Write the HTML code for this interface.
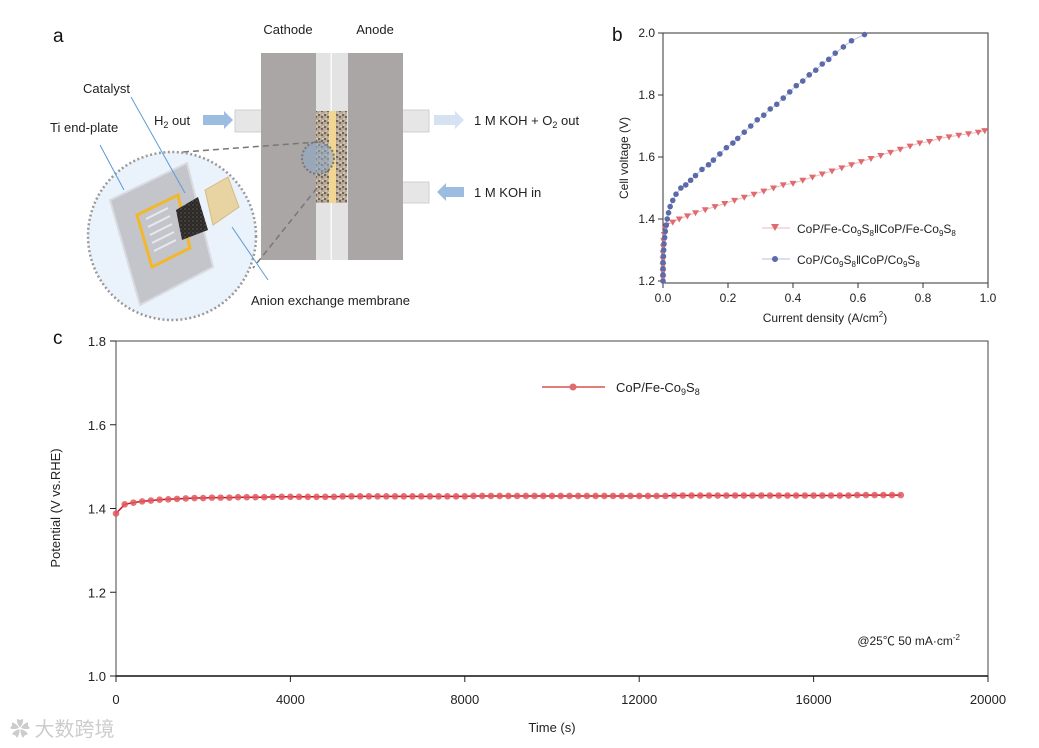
<!DOCTYPE html>
<html><head><meta charset="utf-8"><style>
body{margin:0;background:#fff;}
svg{display:block;font-family:"Liberation Sans",Arial,"Noto Sans CJK SC",sans-serif;}
</style></head><body>
<svg id="fig" width="1039" height="748" viewBox="0 0 1039 748">
<defs>
<pattern id="porous" width="6" height="6" patternUnits="userSpaceOnUse">
<rect width="6" height="6" fill="#b7a795"/><circle cx="1" cy="1" r="1" fill="#5a4e44"/><circle cx="4" cy="3" r="0.9" fill="#3f372f"/><circle cx="2" cy="5" r="0.8" fill="#e6ddd0"/><circle cx="5" cy="0.5" r="0.7" fill="#f1ebe1"/>
</pattern>
<pattern id="cat" width="4" height="4" patternUnits="userSpaceOnUse">
<rect width="4" height="4" fill="#2c2926"/><circle cx="1" cy="1" r="0.6" fill="#777"/><circle cx="3" cy="3" r="0.5" fill="#555"/>
</pattern>
</defs>
<!-- Panel a -->
<g>
<text x="53" y="42" font-size="19" fill="#111">a</text>
<text x="288" y="34" font-size="13" text-anchor="middle" fill="#222">Cathode</text>
<text x="375" y="34" font-size="13" text-anchor="middle" fill="#222">Anode</text>
<rect x="316" y="53" width="32" height="207" fill="#e3e3e3"/>
<rect x="330.5" y="53" width="1.5" height="207" fill="#fafafa"/>
<rect x="235" y="110" width="28" height="22" fill="#e6e6e6" stroke="#d0d0d0"/>
<rect x="401" y="110" width="28" height="22" fill="#e6e6e6" stroke="#d0d0d0"/>
<rect x="401" y="182" width="28" height="21" fill="#e6e6e6" stroke="#d0d0d0"/>
<rect x="261" y="53" width="55" height="207" fill="#aaa6a5"/>
<rect x="348" y="53" width="55" height="207" fill="#aaa6a5"/>
<rect x="316" y="111" width="31" height="92" fill="url(#porous)"/>
<rect x="329" y="111" width="7" height="92" fill="#f1d592"/>
<circle cx="318" cy="158" r="16" fill="#8fa8c4" fill-opacity="0.6" stroke="#777" stroke-width="2" stroke-dasharray="2 2"/>
<line x1="183" y1="152" x2="318" y2="142" stroke="#777" stroke-width="1.5" stroke-dasharray="6 4"/>
<line x1="317" y1="188" x2="253" y2="268" stroke="#777" stroke-width="1.5" stroke-dasharray="6 4"/>
<polygon points="203,115 224,115 224,111 233,120 224,129 224,125 203,125" fill="#9dbde0"/>
<polygon points="434,115 455,115 455,111 464,120 455,129 455,125 434,125" fill="#d5e2f1"/>
<polygon points="464,187 446,187 446,183 437,192 446,201 446,197 464,197" fill="#9dbde0"/>
<text x="154" y="125" font-size="13" fill="#222">H<tspan font-size="9" dy="3">2</tspan><tspan dy="-3"> out</tspan></text>
<text x="474" y="125" font-size="13" fill="#222">1 M KOH + O<tspan font-size="9" dy="3">2</tspan><tspan dy="-3"> out</tspan></text>
<text x="474" y="197" font-size="13" fill="#222">1 M KOH in</text>
<circle cx="172" cy="236" r="84" fill="#eaf2fb" stroke="#999" stroke-width="2.5" stroke-dasharray="2 2.5"/>
<polygon points="110,200 187,163 213,267 140,305" fill="#c3c5cb" stroke="#d9dbe0" stroke-width="2"/>
<polygon points="137,215 178,195 190,248 152,267" fill="none" stroke="#f2b72a" stroke-width="3"/>
<g stroke="#e8e9ee" stroke-width="2"><line x1="146" y1="219" x2="168" y2="208"/><line x1="148" y1="227" x2="170" y2="216"/><line x1="150" y1="235" x2="172" y2="224"/><line x1="152" y1="243" x2="174" y2="232"/><line x1="154" y1="251" x2="176" y2="240"/></g>
<polygon points="176,210 198,197 208,230 182,240" fill="url(#cat)"/>
<polygon points="205,190 228,177 239,207 213,225" fill="#e8d3a2" stroke="#d4bb82"/>
<line x1="100" y1="145" x2="124" y2="190" stroke="#5b9bd5" stroke-width="1"/>
<line x1="131" y1="97" x2="185" y2="193" stroke="#5b9bd5" stroke-width="1"/>
<line x1="268" y1="280" x2="232" y2="227" stroke="#5b9bd5" stroke-width="1"/>
<text x="50" y="132" font-size="13" fill="#222">Ti end-plate</text>
<text x="83" y="93" font-size="13" fill="#222">Catalyst</text>
<text x="251" y="305" font-size="13" fill="#222">Anion exchange membrane</text>
</g>
<!-- Panel b -->
<g id="pb">
<text x="612" y="41" font-size="19" fill="#111">b</text>
<rect x="663" y="33" width="325" height="250" fill="none" stroke="#333" stroke-width="1"/>
<text transform="translate(628,158) rotate(-90)" font-size="12" text-anchor="middle" fill="#222">Cell voltage (V)</text>
<text x="825" y="322" font-size="12" text-anchor="middle" fill="#222">Current density (A/cm<tspan font-size="8" dy="-5">2</tspan><tspan dy="5">)</tspan></text>
<g>
<line x1="762" y1="228" x2="790" y2="228" stroke="#f0b8b8"/>
<polygon points="771,224 779,224 775,231" fill="#e06b6f"/>
<text x="797" y="233" font-size="12" fill="#222">CoP/Fe-Co<tspan font-size="8" dy="3">9</tspan><tspan dy="-3">S</tspan><tspan font-size="8" dy="3">8</tspan><tspan dy="-3">‖CoP/Fe-Co</tspan><tspan font-size="8" dy="3">9</tspan><tspan dy="-3">S</tspan><tspan font-size="8" dy="3">8</tspan></text>
<line x1="762" y1="259" x2="790" y2="259" stroke="#b5c0dd"/>
<circle cx="775" cy="259" r="3" fill="#5b6aa8"/>
<text x="797" y="264" font-size="12" fill="#222">CoP/Co<tspan font-size="8" dy="3">9</tspan><tspan dy="-3">S</tspan><tspan font-size="8" dy="3">8</tspan><tspan dy="-3">‖CoP/Co</tspan><tspan font-size="8" dy="3">9</tspan><tspan dy="-3">S</tspan><tspan font-size="8" dy="3">8</tspan></text>
</g>
</g>
<!-- Panel c -->
<g id="pc">
<text x="53" y="344" font-size="19" fill="#111">c</text>
<rect x="116" y="341" width="872" height="335" fill="none" stroke="#444" stroke-width="1"/>
<line x1="116" y1="676" x2="988" y2="676" stroke="#111" stroke-width="1.5"/>
<text transform="translate(60,508) rotate(-90)" font-size="13" text-anchor="middle" fill="#222">Potential (V vs.RHE)</text>
<text x="552" y="732" font-size="13" text-anchor="middle" fill="#222">Time (s)</text>
<g>
<line x1="542" y1="387" x2="605" y2="387" stroke="#d9534f" stroke-width="1.5"/>
<circle cx="573" cy="387" r="3.5" fill="#e06b6f"/>
<text x="616" y="392" font-size="13" fill="#222">CoP/Fe-Co<tspan font-size="9" dy="3">9</tspan><tspan dy="-3">S</tspan><tspan font-size="9" dy="3">8</tspan></text>
</g>
<text x="960" y="645" font-size="12" text-anchor="end" fill="#222">@25℃ 50 mA·cm<tspan font-size="8" dy="-5">-2</tspan></text>
</g>
<text x="10" y="736" font-size="20" fill="#ccc" font-family="Noto Sans CJK SC, sans-serif">✿ 大数跨境</text>
</svg>
<script>
var bFeCurrent=[0,0,0,0,0,0.001,0.002,0.004,0.007,0.01,0.03,0.05,0.075,0.1,0.13,0.16,0.19,0.22,0.25,0.28,0.31,0.34,0.37,0.4,0.43,0.46,0.49,0.52,0.55,0.58,0.61,0.64,0.67,0.7,0.73,0.76,0.79,0.82,0.85,0.88,0.91,0.94,0.97,0.99];
var bFeVoltage=[1.21,1.23,1.25,1.27,1.29,1.31,1.33,1.35,1.37,1.38,1.39,1.40,1.41,1.42,1.43,1.44,1.45,1.46,1.47,1.48,1.49,1.50,1.51,1.515,1.525,1.535,1.545,1.555,1.565,1.575,1.585,1.595,1.605,1.615,1.625,1.635,1.645,1.65,1.66,1.665,1.67,1.675,1.68,1.685];
var bCoCurrent=[0,0,0,0,0.001,0.002,0.003,0.005,0.007,0.01,0.013,0.017,0.022,0.03,0.04,0.055,0.07,0.085,0.1,0.12,0.14,0.155,0.175,0.195,0.215,0.23,0.25,0.27,0.29,0.31,0.33,0.35,0.37,0.39,0.41,0.43,0.45,0.47,0.49,0.51,0.53,0.555,0.58,0.62];
var bCoVoltage=[1.2,1.22,1.24,1.26,1.28,1.30,1.32,1.34,1.36,1.38,1.40,1.42,1.44,1.46,1.48,1.50,1.51,1.525,1.54,1.56,1.575,1.59,1.61,1.63,1.645,1.66,1.68,1.70,1.72,1.735,1.755,1.77,1.79,1.81,1.83,1.845,1.865,1.88,1.90,1.915,1.935,1.955,1.975,1.995];
var bXTicks=["0.0","0.2","0.4","0.6","0.8","1.0"];
var bYTicks=["1.2","1.4","1.6","1.8","2.0"];
var cTime=[0,200,400,600,800,1000,1200,1400,1600,1800,2000,2200,2400,2600,2800,3000,3200,3400,3600,3800,4000,4200,4400,4600,4800,5000,5200,5400,5600,5800,6000,6200,6400,6600,6800,7000,7200,7400,7600,7800,8000,8200,8400,8600,8800,9000,9200,9400,9600,9800,10000,10200,10400,10600,10800,11000,11200,11400,11600,11800,12000,12200,12400,12600,12800,13000,13200,13400,13600,13800,14000,14200,14400,14600,14800,15000,15200,15400,15600,15800,16000,16200,16400,16600,16800,17000,17200,17400,17600,17800,18000];
var cPotential=[1.388,1.410,1.414,1.417,1.419,1.421,1.422,1.423,1.424,1.425,1.425,1.426,1.426,1.426,1.427,1.427,1.427,1.427,1.428,1.428,1.428,1.428,1.428,1.428,1.428,1.428,1.429,1.429,1.429,1.429,1.429,1.429,1.429,1.429,1.429,1.429,1.429,1.429,1.429,1.429,1.429,1.430,1.430,1.430,1.430,1.430,1.430,1.430,1.430,1.430,1.430,1.430,1.430,1.430,1.430,1.430,1.430,1.430,1.430,1.430,1.430,1.430,1.430,1.430,1.431,1.431,1.431,1.431,1.431,1.431,1.431,1.431,1.431,1.431,1.431,1.431,1.431,1.431,1.431,1.431,1.431,1.431,1.431,1.431,1.431,1.432,1.432,1.432,1.432,1.432,1.432];
var cXTicks=["0","4000","8000","12000","16000","20000"];
var cYTicks=["1.0","1.2","1.4","1.6","1.8"];
var NS="http://www.w3.org/2000/svg";
function mk(t,a,p){var e=document.createElementNS(NS,t);for(var k in a)e.setAttribute(k,a[k]);p.appendChild(e);return e;}
var pb=document.getElementById('pb'),pc=document.getElementById('pc');
function bx(v){return 663+v*325;} function by(v){return 281-(v-1.2)/0.8*248;}
function cx(v){return 116+v/20000*872;} function cy(v){return 676-(v-1.0)/0.8*335;}
bXTicks.forEach(function(t){var v=parseFloat(t),x=bx(v);
var l=mk('line',{x1:x,y1:283,x2:x,y2:288,stroke:'#333'},pb);


var s=mk('text',{x:x,y:302,'font-size':12,'text-anchor':'middle',fill:'#222'},pb);s.textContent=t;

});
bYTicks.forEach(function(t){var v=parseFloat(t),y=by(v);
var l=mk('line',{x1:658,y1:y,x2:663,y2:y,stroke:'#333'},pb);


var s=mk('text',{x:655,y:y+4,'font-size':12,'text-anchor':'end',fill:'#222'},pb);s.textContent=t;

});
function series(xs,ys,col,lc,kind,name){var d='';for(var i=0;i<xs.length;i++){d+=(i?'L':'M')+bx(xs[i])+' '+by(ys[i]);}
var p=mk('path',{d:d,fill:'none',stroke:lc,'stroke-width':1},pb);


for(var i=0;i<xs.length;i++){var x=bx(xs[i]),y=by(ys[i]),m;
if(kind=='tri'){m=mk('polygon',{points:(x-3.5)+','+(y-2.5)+' '+(x+3.5)+','+(y-2.5)+' '+x+','+(y+3.5),fill:col},pb);}
else{m=mk('circle',{cx:x,cy:y,r:2.8,fill:col},pb);}

}}
series(bFeCurrent,bFeVoltage,'#e06b6f','#f0b8b8','tri','series-fe');
series(bCoCurrent,bCoVoltage,'#5b6aa8','#b5c0dd','circ','series-co');
cXTicks.forEach(function(t){var v=parseFloat(t),x=cx(v);
var l=mk('line',{x1:x,y1:676,x2:x,y2:682,stroke:'#222'},pc);


var s=mk('text',{x:x,y:704,'font-size':13,'text-anchor':'middle',fill:'#222'},pc);s.textContent=t;

});
cYTicks.forEach(function(t){var v=parseFloat(t),y=cy(v);
var l=mk('line',{x1:110,y1:y,x2:116,y2:y,stroke:'#222'},pc);


var s=mk('text',{x:106,y:y+5,'font-size':13,'text-anchor':'end',fill:'#222'},pc);s.textContent=t;

});
(function(){var d='';for(var i=0;i<cTime.length;i++){d+=(i?'L':'M')+cx(cTime[i])+' '+cy(cPotential[i]);}
var p=mk('path',{d:d,fill:'none',stroke:'#c8102e','stroke-width':1.5},pc);


for(var i=0;i<cTime.length;i++){var m=mk('circle',{cx:cx(cTime[i]),cy:cy(cPotential[i]),r:3.3,fill:'#e0585c','fill-opacity':0.85},pc);

}})();
</script>
</body></html>
